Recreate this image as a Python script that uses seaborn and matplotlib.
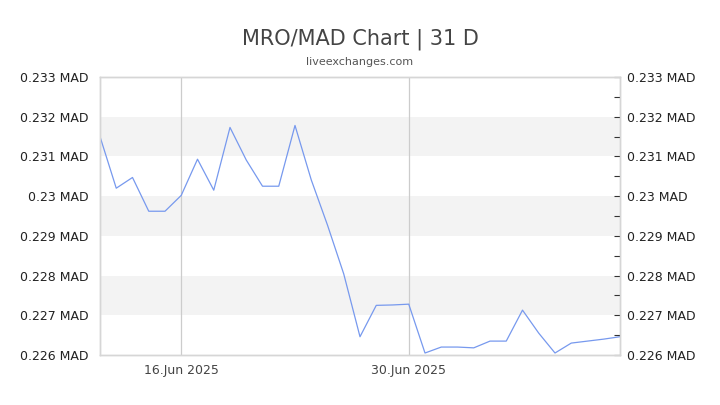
import matplotlib
matplotlib.use("Agg")
import matplotlib.pyplot as plt
import matplotlib.dates as mdates
import matplotlib.ticker as mticker
import pandas as pd
import seaborn as sns

# daily MRO/MAD rate, 11 Jun - 13 Jul 2025
dates = pd.date_range("2025-06-11", "2025-07-13", freq="D")
rates = [0.23150, 0.23020, 0.23047, 0.22962, 0.22962, 0.23002, 0.23093,
         0.23015, 0.23173, 0.23091, 0.23025, 0.23025, 0.23178, 0.23041,
         0.22927, 0.22804, 0.22646, 0.22725, 0.22726, 0.22728, 0.22605,
         0.22620, 0.22620, 0.22618, 0.22635, 0.22635, 0.22713, 0.22655,
         0.22605, 0.22630, 0.22635, 0.22640, 0.22646]

x_ticks = ["2025-06-16", "2025-06-30"]
y_ticks = [0.226, 0.227, 0.228, 0.229, 0.230, 0.231, 0.232, 0.233]
y_labels = ["0.226 MAD", "0.227 MAD", "0.228 MAD", "0.229 MAD", "0.23 MAD",
            "0.231 MAD", "0.232 MAD", "0.233 MAD"]
bands = [(0.227, 0.228), (0.229, 0.230), (0.231, 0.232)]

df = pd.DataFrame({"date": dates, "rate": rates})

sns.set_style("white")
plt.rcParams['font.family'] = "DejaVu Sans"

fig = plt.figure(figsize = (7.2, 4.05), dpi = 100)
ax = fig.add_axes([100 / 720, 1 - 355 / 405, 520 / 720, 278 / 405])

for lo, hi in bands:
    ax.axhspan(lo, hi, color = "#f3f3f3", lw = 0, zorder = 0)
for xt in x_ticks:
    ax.axvline(pd.Timestamp(xt), color = "#cccccc", lw = 0.9, zorder = 1)

sns.lineplot(data = df, x = "date", y = "rate", ax = ax, color = "#7799ee",
             lw = 0.9, zorder = 3)

ax.set_xlim(dates[0], dates[-1])
ax.set_ylim(y_ticks[0], y_ticks[-1])
ax.set_xticks([pd.Timestamp(x) for x in x_ticks])
ax.xaxis.set_major_formatter(mdates.DateFormatter("%d.%b %Y"))
ax.set_yticks(y_ticks)
ax.set_yticklabels(y_labels)
ax.set_xlabel("")
ax.set_ylabel("")

# right hand axis with inward ticks
ax2 = ax.twinx()
ax2.set_ylim(y_ticks[0], y_ticks[-1])
ax2.set_yticks(y_ticks)
ax2.set_yticklabels(y_labels)
ax2.yaxis.set_minor_locator(mticker.MultipleLocator(0.0005))
ax2.tick_params(axis = "y", which = "both", direction = "in", length = 4,
                width = 0.8, color = "#333333", labelsize = 9,
                labelcolor = "#222222", pad = 5)

ax.tick_params(axis = "y", which = "both", left = False, labelsize = 9,
               labelcolor = "#222222", pad = 4.5)
ax.tick_params(axis = "x", which = "both", bottom = False, labelsize = 9,
               labelcolor = "#444444", pad = 3)

for a in [ax, ax2]:
    for side in ["left", "right", "top", "bottom"]:
        a.spines[side].set_color("#d6d6d6")
        a.spines[side].set_linewidth(1)

fig.text(0.5, 1 - 39 / 405, "MRO/MAD Chart | 31 D", ha = "center", va = "center",
         fontsize = 15, color = "#444444")
fig.text(0.5, 1 - 62 / 405, "liveexchanges.com", ha = "center", va = "center",
         fontsize = 8, color = "#555555")

fig.savefig("out.png", dpi = 100)
